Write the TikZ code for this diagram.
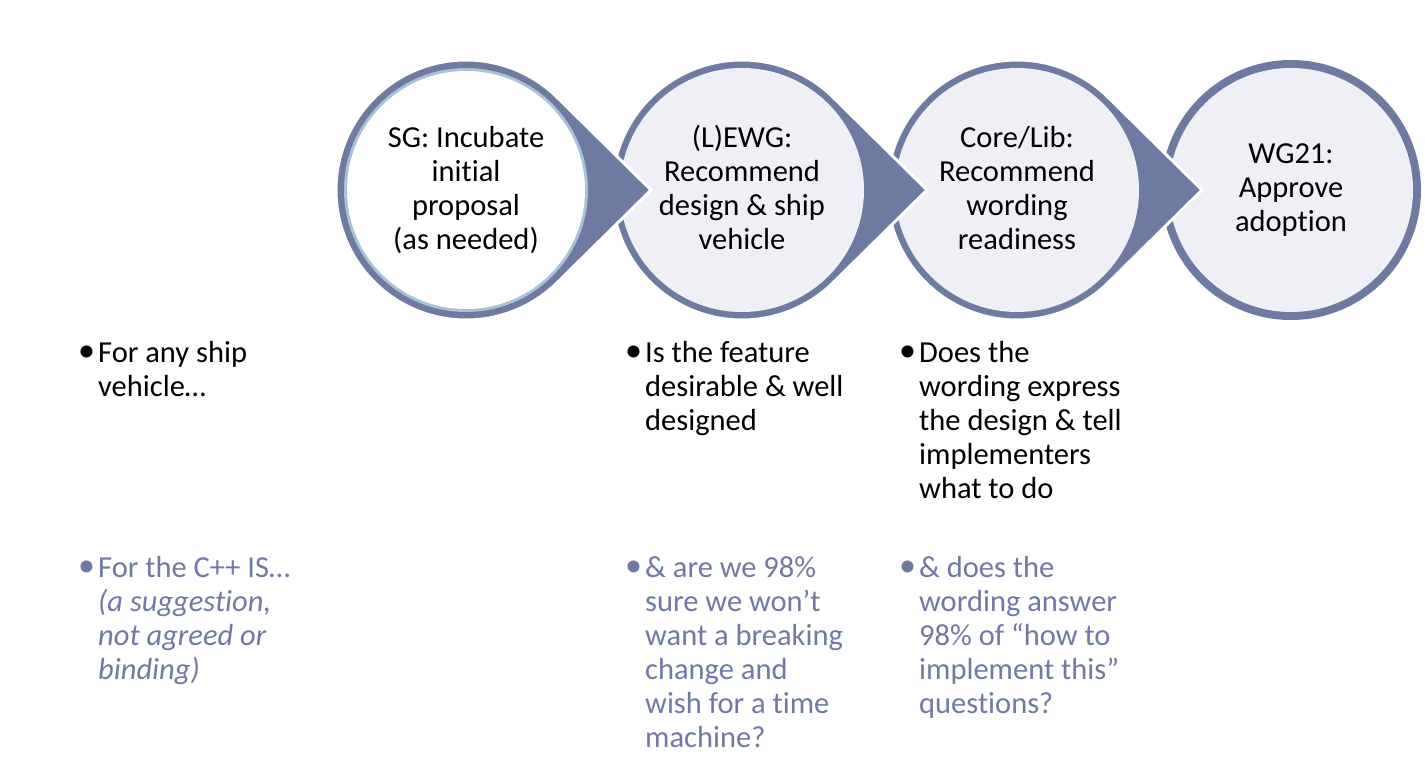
\documentclass[tikz,border=0pt]{standalone}
\usepackage{fontspec}
\setmainfont[Ligatures={NoCommon}]{Carlito}
\usetikzlibrary{calc}
\definecolor{bord}{HTML}{6E7AA2}
\definecolor{cfill}{HTML}{EFF0F5}
\definecolor{ring}{HTML}{A8C3D6}
\definecolor{soft}{HTML}{6E7AA2}
\newcommand{\firstline}{\rule{0pt}{22pt}}
\begin{document}
\begin{tikzpicture}[x=1pt,y=-1pt,
  ctext/.style={font=\fontsize{30.5}{34}\selectfont, align=center, inner sep=0pt, anchor=north, text=black},
  btext/.style={font=\fontsize{30.5}{34}\selectfont, align=left, inner sep=0pt, anchor=north west},
  bmark/.style={font=\fontsize{34}{34}\selectfont, inner sep=0pt, anchor=north west},
  teardrop/.style={fill=bord, draw=white, line width=3pt}
]
\useasboundingbox (0,0) rectangle (1425,778);

\coordinate (c1) at (466,190);
\coordinate (c2) at (742,190);
\coordinate (c3) at (1017,190);
\coordinate (c4) at (1291,190);

% circle 4 (plain)
\fill[bord] (c4) circle[radius=130];
\fill[cfill] (c4) circle[radius=122];

% teardrops, drawn right to left so each tip lies over the next circle
\foreach \c in {c3,c2} {
  \path[teardrop] ($(\c)+(185,0)$) -- ($(\c)+(45:130)$) arc[start angle=45, end angle=315, radius=130] -- cycle;
  \fill[cfill] (\c) circle[radius=122];
}
\path[teardrop] ($(c1)+(185,0)$) -- ($(c1)+(45:130)$) arc[start angle=45, end angle=315, radius=130] -- cycle;
\fill[ring] (c1) circle[radius=122];
\fill[white] (c1) circle[radius=119];

% circle texts
\node[ctext] (t1) at (466,125) {\firstline SG: Incubate\\initial\\proposal\\(as needed)};
\node[ctext] (t2) at (742,125) {\firstline(L)EWG:\\Recommend\\design \& ship\\vehicle};
\node[ctext] (t3) at (1017,125) {\firstline Core/Lib:\\Recommend\\wording\\readiness};
\node[ctext] (t4) at (1291,141) {\firstline WG21:\\Approve\\adoption};

% upper bullets
\node[bmark] (b1) at (78,339) {\firstline•};
\node[btext] (u1) at (98,340) {\firstline For any ship\\vehicle…};
\node[bmark] (b2) at (625,339) {\firstline•};
\node[btext] (u2) at (645,340) {\firstline Is the feature\\desirable \& well\\designed};
\node[bmark] (b3) at (899,339) {\firstline•};
\node[btext] (u3) at (919,340) {\firstline Does the\\wording express\\the design \& tell\\implementers\\what to do};

% lower bullets
\node[bmark, text=soft] (b4) at (78,554) {\firstline•};
\node[btext, text=soft] (l1) at (98,555) {\firstline For the C++ IS…\\\itshape(a suggestion,\\\itshape not agreed or\\\itshape binding)};
\node[bmark, text=soft] (b5) at (625,554) {\firstline•};
\node[btext, text=soft] (l2) at (645,555) {\firstline\& are we 98\%\\sure we won’t\\want a breaking\\change and\\wish for a time\\machine?};
\node[bmark, text=soft] (b6) at (899,554) {\firstline•};
\node[btext, text=soft] (l3) at (919,555) {\firstline\& does the\\wording answer\\98\% of “how to\\implement this”\\questions?};
\end{tikzpicture}
\end{document}
